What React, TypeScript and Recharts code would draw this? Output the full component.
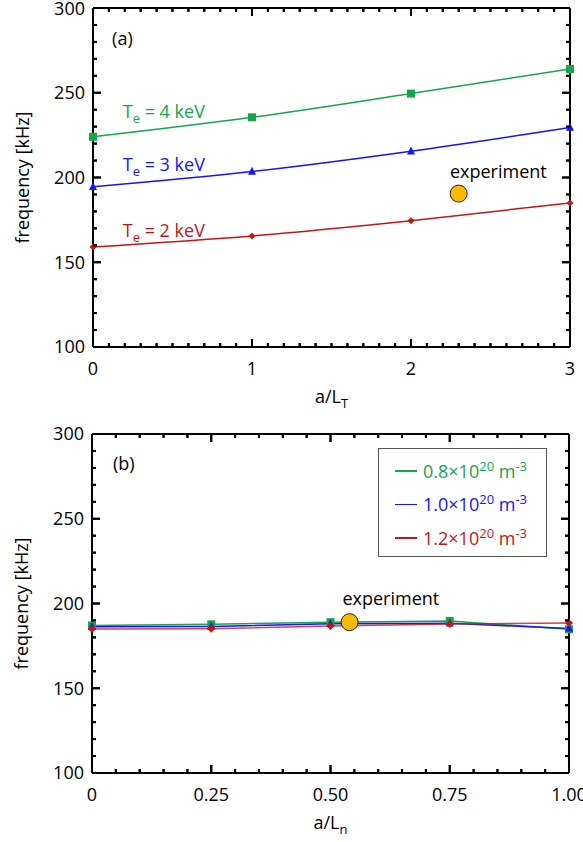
import React from "react";
import { ComposedChart, Line, Scatter, XAxis, YAxis, ReferenceDot, Legend } from "recharts";

const FONT = '"Open Sans", "Noto Sans", sans-serif';
const FS = 18;
const GREEN = "#14a64b";
const BLUE = "#1414ff";
const RED = "#c81414";
const GOLD = "#fbb900";

// panel (a): frequency vs a/L_T
const aLT = [0, 1, 2, 3];
const te4 = [224, 235.5, 249.5, 264];
const te3 = [194.5, 203.5, 215.5, 229.5];
const te2 = [159, 165.5, 174.5, 185];
const expA = [{ x: 2.3, y: 190.5 }];

// panel (b): frequency vs a/L_n
const aLn = [0, 0.25, 0.5, 0.75, 1.0];
const n08 = [187, 187.7, 189, 189.7, 184.8];
const n10 = [186.3, 186.5, 188, 188.3, 185.3];
const n12 = [185, 185.1, 186.7, 187.9, 188.5];
const expB = [{ x: 0.54, y: 189 }];

const freqTicks = [100, 150, 200, 250, 300];
const xTicksA = [0, 1, 2, 3];
const xTicksB = [0, 0.25, 0.5, 0.75, 1.0];
const xLabelsB = ["0", "0.25", "0.50", "0.75", "1.00"];

const steps = (lo: number, hi: number, step: number) =>
  Array.from({ length: Math.round((hi - lo) / step) + 1 }, (_, i) => +(lo + i * step).toFixed(4));

const toPts = (xs: number[], ys: number[]) => xs.map((x, i) => ({ x, y: ys[i] }));

type Part = [string, "sub" | "sup" | null];

const richText = (parts: Part[], size = FS) => {
  let shift = 0;
  return parts.map(([t, kind], i) => {
    const target = kind === "sub" ? 5 : kind === "sup" ? -7 : 0;
    const dy = target - shift;
    shift = target;
    return (
      <tspan key={i} dy={dy} fontSize={kind ? 13 : size}>
        {t}
      </tspan>
    );
  });
};

const annot = (parts: Part[], color: string) => (p: any) => {
  const { x, y } = p.viewBox;
  return (
    <text x={x} y={y} fill={color} fontFamily={FONT} fontSize={FS}>
      {richText(parts)}
    </text>
  );
};

const square = (color: string, s: number) => (p: any) =>
  <rect key={p.index} x={p.cx - s / 2} y={p.cy - s / 2} width={s} height={s} fill={color} />;

const triangle = (color: string, s: number) => (p: any) =>
  <path key={p.index} d={`M${p.cx},${p.cy - s * 0.6}L${p.cx + s / 2},${p.cy + s * 0.4}L${p.cx - s / 2},${p.cy + s * 0.4}Z`} fill={color} />;

const diamond = (color: string, s: number) => (p: any) =>
  <path key={p.index} d={`M${p.cx},${p.cy - s / 2}L${p.cx + s / 2},${p.cy}L${p.cx},${p.cy + s / 2}L${p.cx - s / 2},${p.cy}Z`} fill={color} />;

const expDot = (p: any) => <circle cx={p.cx} cy={p.cy} r={8.5} fill={GOLD} stroke="#222" strokeWidth={1} />;

const xTitle = (parts: Part[]) => (p: any) => {
  const { x, y, width } = p.viewBox;
  return (
    <text x={x + width / 2} y={y + 56} textAnchor="middle" fontFamily={FONT} fontSize={FS} fill="#000">
      {richText(parts)}
    </text>
  );
};

const yTitle = (p: any) => {
  const { x, y, height } = p.viewBox;
  return (
    <text
      transform={`translate(${x - 64},${y + height / 2}) rotate(-90)`}
      textAnchor="middle"
      fontFamily={FONT}
      fontSize={FS}
      fill="#000"
    >
      frequency [kHz]
    </text>
  );
};

const axisStroke = { stroke: "#000", strokeWidth: 2 };
const THIN = 0.01;

type Side = "bottom" | "top" | "left" | "right";

// short black tick drawn as a filled bar pointing into the box
const tickBar = (side: Side, x: number, y: number, len: number) => {
  const d =
    side === "bottom"
      ? `M${x - 1},${y}h2v${-len}h-2Z`
      : side === "top"
      ? `M${x - 1},${y}h2v${len}h-2Z`
      : side === "left"
      ? `M${x},${y - 1}v2h${len}v-2Z`
      : `M${x},${y - 1}v2h${-len}v-2Z`;
  return <path d={d} fill="#000" />;
};

// axis tick: inward bar (long for major values) plus a label outside for bottom/left
const boxTick = (side: Side, majors: number[], fmt?: (v: number) => string) => (p: any) => {
  const { x, y } = p;
  const v = p.payload.value;
  const major = majors.includes(v);
  return (
    <g>
      {tickBar(side, x, y, major ? 8 : 4)}
      {major && fmt && side === "bottom" && (
        <text x={x} y={y + 15} dy="0.72em" textAnchor="middle" fontFamily={FONT} fontSize={FS} fill="#000">
          {fmt(v)}
        </text>
      )}
      {major && fmt && side === "left" && (
        <text x={x - 8} y={y} dy="0.36em" textAnchor="end" fontFamily={FONT} fontSize={FS} fill="#000">
          {fmt(v)}
        </text>
      )}
    </g>
  );
};

// the same tick bars placed on the box edges as scatter marks
const tickShape = (side: Side, majors: number[]) => (p: any) => {
  const v = side === "bottom" || side === "top" ? p.payload.x : p.payload.y;
  return tickBar(side, p.cx, p.cy, majors.includes(v) ? 8 : 4);
};

const tickMarks = (
  xDomain: [number, number],
  yDomain: [number, number],
  xMinor: number[],
  xMajor: number[],
  yMinor: number[],
  yMajor: number[]
) => {
  const sides: [Side, { x: number; y: number }[], number[]][] = [
    ["bottom", xMinor.map((x) => ({ x, y: yDomain[0] })), xMajor],
    ["top", xMinor.map((x) => ({ x, y: yDomain[1] })), xMajor],
    ["left", yMinor.map((y) => ({ x: xDomain[0], y })), yMajor],
    ["right", yMinor.map((y) => ({ x: xDomain[1], y })), yMajor],
  ];
  return sides.map(([side, data, majors]) => (
    <Scatter key={`tick-${side}`} xAxisId="b" yAxisId="l" data={data} shape={tickShape(side, majors)}
      isAnimationActive={false} />
  ));
};

// box frame with inward ticks on all four sides
const frame = (
  xDomain: [number, number],
  xMajor: number[],
  xMinor: number[],
  xFmt: (v: number) => string,
  xParts: Part[]
) => {
  const yDomain: [number, number] = [100, 300];
  const yMinor = steps(100, 300, 10);
  const shared = { type: "number" as const, interval: 0, tickSize: 0, tickMargin: 0, tickLine: false, axisLine: axisStroke };
  return [
    <XAxis key="xb" xAxisId="b" orientation="bottom" dataKey="x" domain={xDomain} ticks={xMinor} height={THIN}
      tick={boxTick("bottom", xMajor, xFmt)} label={xTitle(xParts)} {...shared} />,
    <XAxis key="xt" xAxisId="t" orientation="top" dataKey="x" domain={xDomain} ticks={xMinor} height={THIN}
      tick={boxTick("top", xMajor)} {...shared} />,
    <YAxis key="yl" yAxisId="l" orientation="left" dataKey="y" domain={yDomain} ticks={yMinor} width={THIN}
      tick={boxTick("left", freqTicks, (v) => String(v))} label={yTitle} {...shared} />,
    <YAxis key="yr" yAxisId="r" orientation="right" dataKey="y" domain={yDomain} ticks={yMinor} width={THIN}
      tick={boxTick("right", freqTicks)} {...shared} />,
    ...tickMarks(xDomain, yDomain, xMinor, xMajor, yMinor, freqTicks),
  ];
};

const legendRows: { color: string; base: string }[] = [
  { color: GREEN, base: "0.8×10" },
  { color: BLUE, base: "1.0×10" },
  { color: RED, base: "1.2×10" },
];

const sup = { fontSize: 13, position: "relative" as const, top: -7 };

const DensityLegend = () => (
  <div
    style={{
      boxSizing: "border-box",
      width: 169,
      height: 109,
      border: "1.5px solid #555",
      padding: "5px 0 0 16px",
      fontFamily: FONT,
      fontSize: FS,
    }}
  >
    {legendRows.map((r) => (
      <div key={r.base} style={{ height: 33.5, display: "flex", alignItems: "center", color: r.color }}>
        <span style={{ display: "inline-block", width: 22, height: 1.5, background: r.color, marginRight: 6 }} />
        <span style={{ whiteSpace: "nowrap" }}>
          {r.base}
          <span style={sup}>20</span> m<span style={sup}>-3</span>
        </span>
      </div>
    ))}
  </div>
);

const lineCommon = {
  xAxisId: "b",
  yAxisId: "l",
  dataKey: "y",
  strokeWidth: 1.5,
  isAnimationActive: false,
  activeDot: false,
} as const;

export default function App() {
  return (
    <div style={{ position: "absolute", left: 0, top: 0, width: 583, height: 842, background: "#fff" }}>
      <div style={{ position: "absolute", left: 0, top: 0 }}>
        <ComposedChart width={583} height={412} margin={{ top: 8, right: 13, bottom: 65, left: 93 }}>
          {frame([0, 3], xTicksA, steps(0, 3, 0.1), (v) => String(v), [["a/L", null], ["T", "sub"]])}
          <Line {...lineCommon} data={toPts(aLT, te4)} type="monotone" stroke={GREEN} dot={square(GREEN, 8)} />
          <Line {...lineCommon} data={toPts(aLT, te3)} type="monotone" stroke={BLUE} dot={triangle(BLUE, 8)} />
          <Line {...lineCommon} data={toPts(aLT, te2)} type="monotone" stroke={RED} dot={diamond(RED, 7)} />
          <Scatter xAxisId="t" yAxisId="r" data={expA} shape={expDot} isAnimationActive={false} />
          <ReferenceDot xAxisId="b" yAxisId="l" x={0.12} y={278} r={0} label={annot([["(a)", null]], "#000")} />
          <ReferenceDot xAxisId="b" yAxisId="l" x={0.187} y={235.1} r={0}
            label={annot([["T", null], ["e", "sub"], [" = 4 keV", null]], GREEN)} />
          <ReferenceDot xAxisId="b" yAxisId="l" x={0.187} y={204} r={0}
            label={annot([["T", null], ["e", "sub"], [" = 3 keV", null]], BLUE)} />
          <ReferenceDot xAxisId="b" yAxisId="l" x={0.187} y={165} r={0}
            label={annot([["T", null], ["e", "sub"], [" = 2 keV", null]], RED)} />
          <ReferenceDot xAxisId="b" yAxisId="l" x={2.245} y={199.5} r={0}
            label={annot([["experiment", null]], "#000")} />
        </ComposedChart>
      </div>
      <div style={{ position: "absolute", left: 0, top: 420 }}>
        <ComposedChart width={583} height={422} margin={{ top: 14, right: 14, bottom: 69, left: 92 }}>
          {frame([0, 1], xTicksB, steps(0, 1, 0.05), (v) => xLabelsB[xTicksB.indexOf(v)] ?? String(v), [
            ["a/L", null],
            ["n", "sub"],
          ])}
          <Line {...lineCommon} name="n08" data={toPts(aLn, n08)} type="linear" stroke={GREEN} dot={square(GREEN, 8)} />
          <Line {...lineCommon} name="n10" data={toPts(aLn, n10)} type="linear" stroke={BLUE} dot={triangle(BLUE, 8)} />
          <Line {...lineCommon} name="n12" data={toPts(aLn, n12)} type="linear" stroke={RED} strokeOpacity={0.8} dot={diamond(RED, 8)} />
          <Scatter xAxisId="t" yAxisId="r" data={expB} shape={expDot} isAnimationActive={false} />
          <ReferenceDot xAxisId="b" yAxisId="l" x={0.044} y={278.8} r={0} label={annot([["(b)", null]], "#000")} />
          <ReferenceDot xAxisId="b" yAxisId="l" x={0.525} y={199.1} r={0}
            label={annot([["experiment", null]], "#000")} />
          <Legend
            layout="vertical"
            align="center"
            verticalAlign="middle"
            wrapperStyle={{ left: 378, top: 28, width: 169, height: 109 }}
            content={() => <DensityLegend />}
          />
        </ComposedChart>
      </div>
    </div>
  );
}
